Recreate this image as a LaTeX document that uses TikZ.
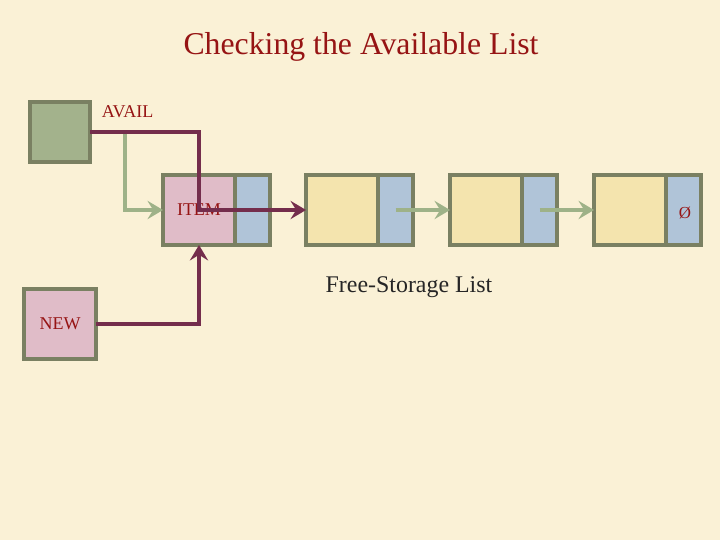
\documentclass[tikz,border=0pt]{standalone}
\usepackage{fontspec}
\setmainfont{Liberation Serif}
\usetikzlibrary{arrows.meta,positioning}

\definecolor{bgcream}{RGB}{250,241,214}
\definecolor{titlered}{RGB}{150,20,20}
\definecolor{boxedge}{RGB}{122,128,98}
\definecolor{availgreen}{RGB}{163,178,140}
\definecolor{itempink}{RGB}{224,188,200}
\definecolor{linkblue}{RGB}{176,196,216}
\definecolor{freeyellow}{RGB}{244,228,174}
\definecolor{ptrgreen}{RGB}{158,178,136}
\definecolor{ptrmaroon}{RGB}{116,45,76}

\begin{document}
\begin{tikzpicture}[>={Stealth[length=11pt,width=13pt,inset=4pt]},
  cell/.style={draw=boxedge,line width=2.6pt,inner sep=0pt,outer sep=0pt,minimum height=1.75cm},
  databox/.style={cell,minimum width=1.8cm,fill=freeyellow},
  linkbox/.style={cell,minimum width=0.875cm,fill=linkblue},
  lbl/.style={text=titlered,font=\fontsize{12.8pt}{14pt}\selectfont},
  ptr/.style={line width=3.4pt}]
  \fill[bgcream] (0,0) rectangle (18,13.5);
  \useasboundingbox (0,0) rectangle (18,13.5);

  \node[text=titlered,font=\fontsize{22.6pt}{26pt}\selectfont] (title) at (9.025,12.33) {Checking the Available List};

  \node[cell,minimum width=1.5cm,minimum height=1.5cm,fill=availgreen] (avail) at (1.5,10.2) {};
  \node[lbl,anchor=west] (availlbl) at (2.425,10.7) {AVAIL};

  \node[databox,fill=itempink] (item) at (4.975,8.25) {};
  \node[linkbox,right=0pt of item] (itemlink) {};
  \node[databox,right=0.9cm of itemlink] (n2) {};
  \node[linkbox,right=0pt of n2] (n2link) {};
  \node[databox,right=0.925cm of n2link] (n3) {};
  \node[linkbox,right=0pt of n3] (n3link) {};
  \node[databox,right=0.925cm of n3link] (n4) {};
  \node[linkbox,right=0pt of n4] (n4link) {};
  \node[lbl,font=\fontsize{12pt}{14pt}\selectfont] (nullptr) at ([xshift=1pt,yshift=-2pt]n4link.center) {Ø};

  \node[text=black!85,font=\fontsize{17pt}{20pt}\selectfont] (freelbl) at (10.225,6.33) {Free-Storage List};

  \node[cell,minimum width=1.8cm,fill=itempink] (new) at (1.5,5.4) {};
  \node[lbl] (newlbl) at (new.center) {NEW};

  \coordinate (availptr) at (3.125,10.2);
  \draw[ptr,ptrgreen,->] (availptr) |- (item.west);
  \draw[ptr,ptrgreen,->] (n2link.center) -- (n3.west);
  \draw[ptr,ptrgreen,->] (n3link.center) -- (n4.west);

  \node[lbl] (itemlbl) at (item.center) {ITEM};
  \draw[ptr,ptrmaroon,->] (avail.east) -| (item.center) -- (n2.west);
  \draw[ptr,ptrmaroon,->] (new.east) -| (item.south);
\end{tikzpicture}
\end{document}
